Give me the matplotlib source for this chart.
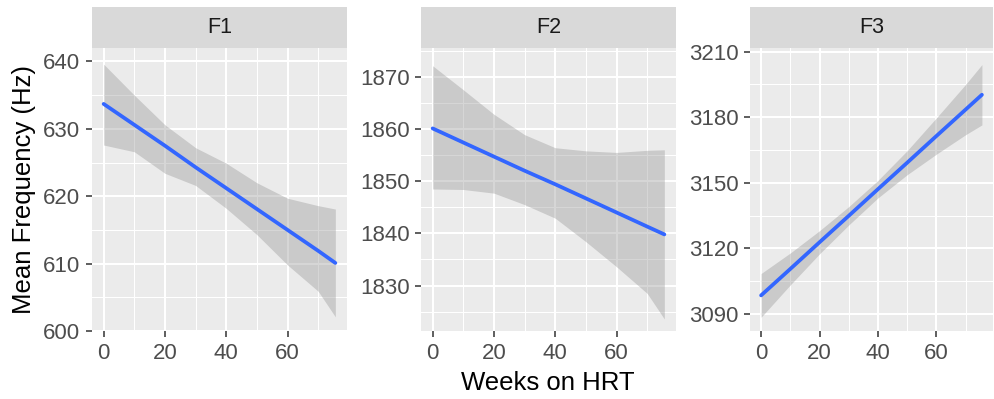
import matplotlib
matplotlib.use("Agg")
import matplotlib.pyplot as plt
from matplotlib.ticker import FixedLocator
import numpy as np

plt.rcParams['font.family'] = ['Liberation Sans', 'DejaVu Sans']

# ---- data ----
facets = ["F1", "F2", "F3"]
weeks = [0, 10, 20, 30, 40, 50, 60, 70, 75.6]

f1_fit = [633.7, 630.6, 627.5, 624.3, 621.2, 618.1, 615.0, 611.9, 610.1]
f1_lo = [627.6, 626.6, 623.4, 621.6, 618.2, 614.3, 609.8, 605.9, 602.1]
f1_hi = [639.6, 635.0, 630.6, 627.2, 624.9, 622.0, 619.7, 618.6, 618.1]

f2_fit = [1860.1, 1857.4, 1854.7, 1852.0, 1849.4, 1846.7, 1844.0, 1841.3, 1839.8]
f2_lo = [1848.5, 1848.4, 1847.7, 1845.5, 1842.9, 1838.4, 1833.6, 1828.5, 1823.6]
f2_hi = [1872.1, 1867.5, 1862.8, 1858.9, 1856.4, 1855.8, 1855.5, 1855.9, 1856.0]

f3_fit = [3098.5, 3110.6, 3122.8, 3134.9, 3147.1, 3159.2, 3171.4, 3183.5, 3190.3]
f3_lo = [3088.5, 3103.3, 3117.5, 3130.7, 3143.1, 3153.7, 3163.1, 3172.0, 3176.5]
f3_hi = [3108.5, 3117.9, 3128.1, 3139.1, 3151.1, 3164.7, 3179.7, 3195.0, 3204.1]

x_ticks = [0, 20, 40, 60]
y_ticks = [[600, 610, 620, 630, 640],
           [1830, 1840, 1850, 1860, 1870],
           [3090, 3120, 3150, 3180, 3210]]
y_limits = [(600.0, 642.0), (1821.3, 1875.5), (3082.2, 3211.7)]
y_minor_step = [5, 5, 15]

fits = [f1_fit, f2_fit, f3_fit]
lows = [f1_lo, f2_lo, f3_lo]
highs = [f1_hi, f2_hi, f3_hi]

# ---- layout ----
W, H = 995, 399
fig = plt.figure(figsize=(W / 100, H / 100), dpi=100)
panel_px = [(92, 347), (421, 676), (750, 993)]
top_px, bot_px, strip_top_px = 48, 331, 7

bg = "#EBEBEB"
for i, name in enumerate(facets):
    l, r = panel_px[i]
    ax = fig.add_axes([l / W, 1 - bot_px / H, (r - l) / W, (bot_px - top_px) / H])
    ax.set_facecolor(bg)
    for s in ax.spines.values():
        s.set_visible(False)
    ax.fill_between(weeks, lows[i], highs[i], color="#999999", alpha=0.4,
                    linewidth=0, zorder=2)
    ax.plot(weeks, fits[i], color="#3366FF", lw=2.7, zorder=3,
            solid_capstyle="round")
    ax.set_xlim(-3.8, 79.4)
    ax.set_ylim(*y_limits[i])
    ax.xaxis.set_major_locator(FixedLocator(x_ticks))
    ax.xaxis.set_minor_locator(FixedLocator([10, 30, 50, 70]))
    ax.yaxis.set_major_locator(FixedLocator(y_ticks[i]))
    st = y_minor_step[i]
    ymin, ymax = y_limits[i]
    minors = [v for v in np.arange(y_ticks[i][0] - st, ymax + st, 2 * st)
              if ymin <= v <= ymax]
    ax.yaxis.set_minor_locator(FixedLocator(minors))
    ax.grid(which="major", color="white", lw=1.5, zorder=1)
    ax.grid(which="minor", color="white", lw=0.75, zorder=1)
    ax.set_axisbelow(True)
    ax.tick_params(which="major", direction="out", length=4.3, width=1.1,
                   color="#333333", labelcolor="#4D4D4D", labelsize=16, pad=4)
    ax.tick_params(which="minor", length=0)
    ax.set_xticklabels([str(t) for t in x_ticks])
    ax.set_yticklabels([str(t) for t in y_ticks[i]])

    sax = fig.add_axes([l / W, 1 - top_px / H, (r - l) / W,
                        (top_px - strip_top_px) / H])
    sax.set_facecolor("#D9D9D9")
    for s in sax.spines.values():
        s.set_visible(False)
    sax.set_xticks([])
    sax.set_yticks([])
    sax.text(0.5, 0.5, name, ha="center", va="center", fontsize=15.5,
             color="#1A1A1A", transform=sax.transAxes)

fig.text(24 / W, 1 - 190 / H, "Mean Frequency (Hz)", rotation=90,
         ha="center", va="center", fontsize=18.5, color="black")
fig.text(548 / W, 1 - 383 / H, "Weeks on HRT", ha="center", va="center",
         fontsize=18.5, color="black")

fig.savefig("out.png", dpi=100, facecolor="white")
